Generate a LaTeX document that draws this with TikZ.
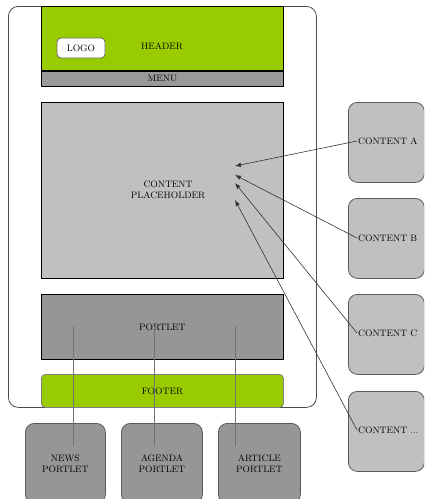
\documentclass[tikz,border=0pt]{standalone}
\usetikzlibrary{positioning, arrows.meta}

\definecolor{leaf}{HTML}{99CC00}
\definecolor{menugray}{HTML}{999999}
\definecolor{boxgray}{HTML}{C0C0C0}
\definecolor{portgray}{HTML}{969696}

\begin{document}
\begin{tikzpicture}[
  x=1pt, y=-1pt,
  font=\fontsize{9.3}{11}\selectfont,
  region/.style = {
    draw, rectangle, line width=0.8pt,
    minimum width=242pt, inner sep=0pt,
    align=center, anchor=north west
  },
  tile/.style = {
    draw=black!65, rounded corners=9pt, line width=0.8pt,
    minimum width=76pt, minimum height=80pt,
    fill=boxgray, anchor=north west, align=center
  },
  feed/.style = {draw=black!80, line width=0.6pt, -{Latex[length=6pt, width=4.5pt]}},
  wire/.style = {draw=black!55, line width=0.9pt}
]

\useasboundingbox (0,0) rectangle (424,499);
\clip (0,0) rectangle (424,499);

% page frame
\node[draw=black!70, rounded corners=10pt, line width=0.8pt, anchor=north west,
      minimum width=308pt, minimum height=401pt] (page) at (8,6) {};

% header and menu
\node[region, fill=leaf, minimum height=64pt] (header) at (41,6) {};
\node (headertxt) at (162,46) {HEADER};
\node[draw=black!60, fill=white, rounded corners=4pt, line width=0.8pt,
      minimum width=48pt, minimum height=20pt, inner sep=0pt] (logo) at (81,48) {LOGO};
\node[region, fill=menugray, minimum height=15pt, below=0pt of header] (menu) {MENU};

% content area
\node[region, fill=boxgray, minimum height=176pt] (holder) at (41,102) {};
\node[align=center] (holdertxt) at (168,190) {CONTENT\\PLACEHOLDER};

% portlet and footer
\node[region, fill=portgray, minimum height=65pt] (portlet) at (41,294) {PORTLET};
\node[region, fill=leaf, draw=black!50, rounded corners=4pt,
      minimum height=33pt] (footer) at (41,374) {FOOTER};

% content tiles on the right
\node[tile] (tileA) at (348,102) {};
\node[tile] (tileB) at (348,198) {};
\node[tile] (tileC) at (348,294) {};
\node[tile] (tileD) at (348,391) {};
\node[anchor=west, inner sep=1pt] (contA) at (357,141) {CONTENT A};
\node[anchor=west, inner sep=1pt] (contB) at (357,238) {CONTENT B};
\node[anchor=west, inner sep=1pt] (contC) at (357,333) {CONTENT C};
\node[anchor=west, inner sep=1pt] (contD) at (357,430) {CONTENT ...};

% portlet tiles below
\node[tile, fill=portgray, minimum width=80pt] (news) at (25,423) {NEWS\\PORTLET};
\node[tile, fill=portgray, minimum width=81pt] (agenda) at (121,423) {AGENDA\\PORTLET};
\node[tile, fill=portgray, minimum width=82pt] (article) at (218,423) {ARTICLE\\PORTLET};

% drop points
\coordinate (dropA) at (235,166);
\coordinate (dropB) at (235,175);
\coordinate (dropC) at (235,183);
\coordinate (dropD) at (235,200);
\coordinate (newsfoot) at (73,446);
\coordinate (newstop) at (73,326);
\coordinate (agendafoot) at (154,446);
\coordinate (agendatop) at (154,326);
\coordinate (articlefoot) at (235,446);
\coordinate (articletop) at (235,326);

\draw[wire] (newsfoot) -- (newstop);
\draw[wire] (agendafoot) -- (agendatop);
\draw[wire] (articlefoot) -- (articletop);

\draw[feed] (contA.west) -- (dropA);
\draw[feed] (contB.west) -- (dropB);
\draw[feed] (contC.west) -- (dropC);
\draw[feed] (contD.west) -- (dropD);

\end{tikzpicture}
\end{document}
